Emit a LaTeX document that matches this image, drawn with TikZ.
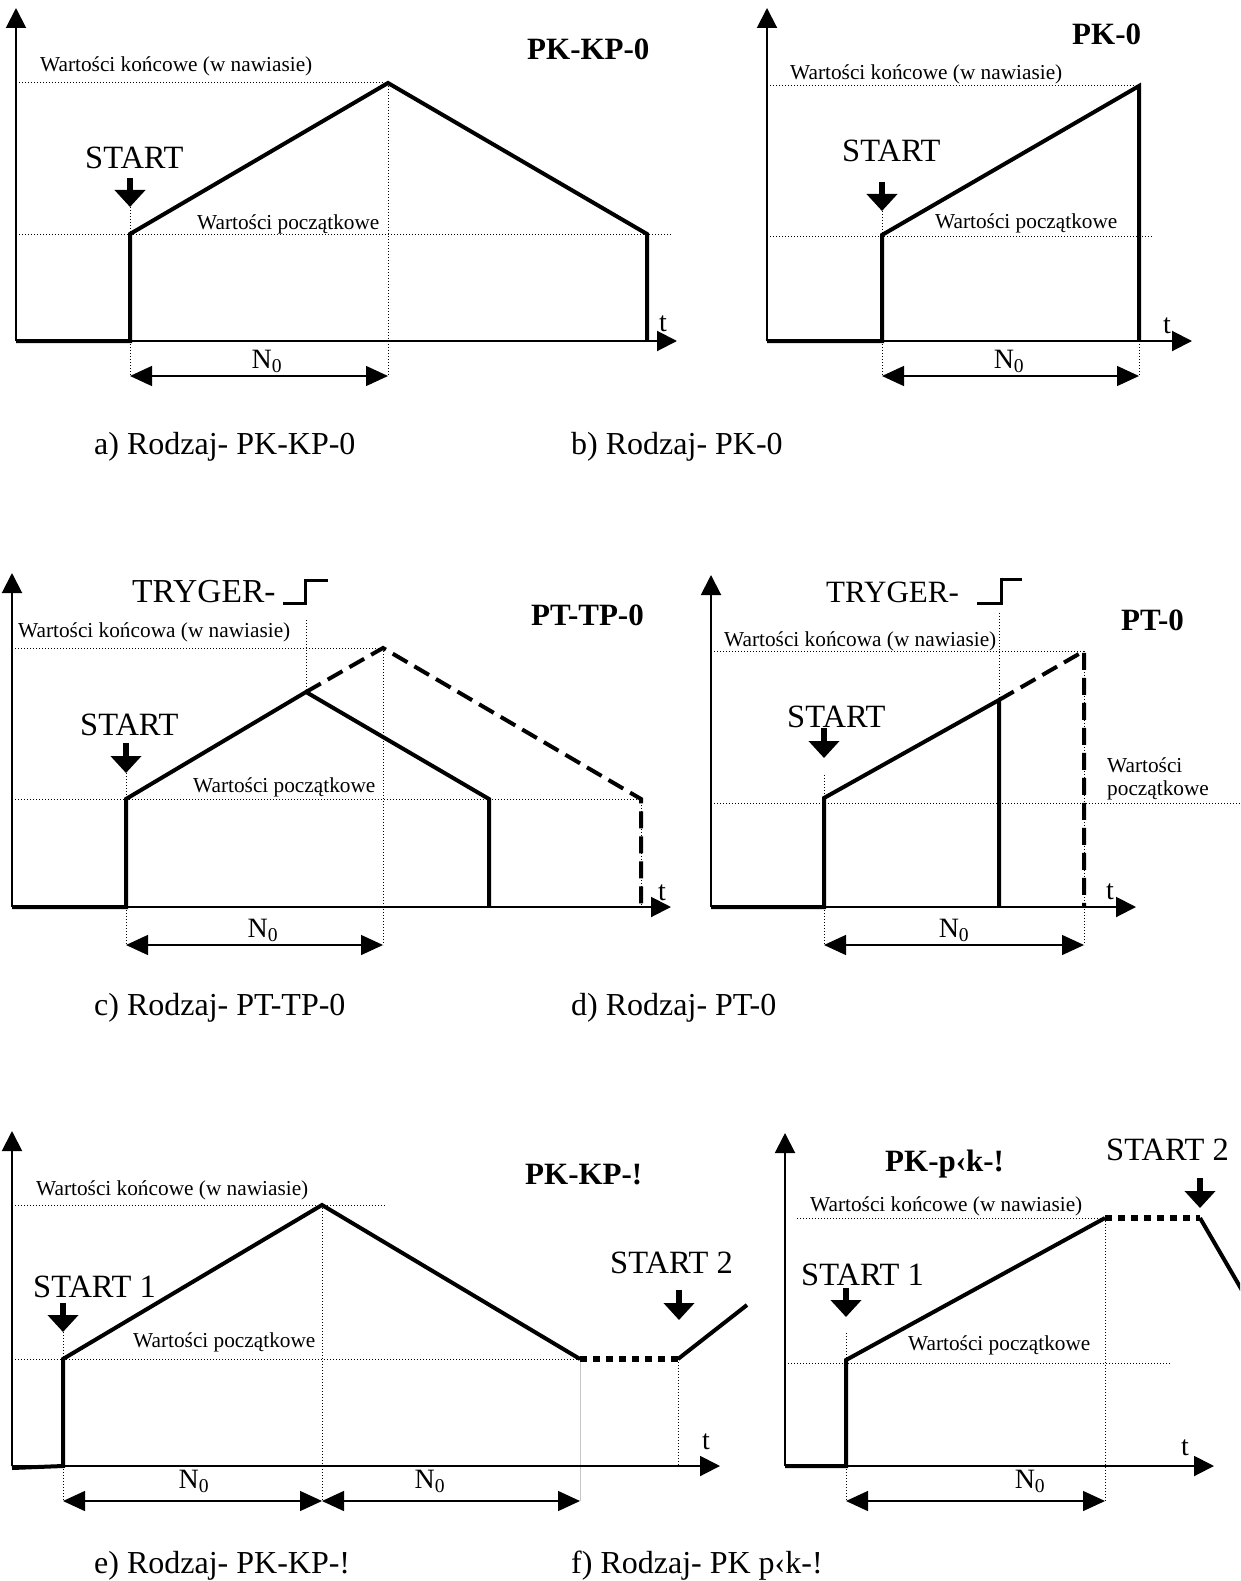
\documentclass[tikz,border=0pt]{standalone}
\usepackage{fontspec}
\setmainfont{Liberation Serif}
\usetikzlibrary{arrows.meta}
\tikzset{
  ax/.style={line width=2pt,-{Triangle[length=20pt,width=20pt]}},
  sig/.style={line width=4pt,line join=miter,line cap=butt},
  dotl/.style={line width=1pt,dash pattern=on 1.2pt off 1.8pt},
  dsh/.style={line width=4pt,dash pattern=on 17pt off 8pt},
  tdot/.style={line width=6pt,dash pattern=on 7pt off 6pt},
  dimarr/.style={line width=1.4pt,{Triangle[length=22pt,width=20pt]}-{Triangle[length=22pt,width=20pt]}},
  startarr/.style={line width=6pt,-{Triangle[length=17pt,width=30pt]}},
  stepl/.style={line width=3pt},
  small/.style={font=\fontsize{21.3}{24}\selectfont,inner sep=0,anchor=base west},
  big/.style={font=\fontsize{32.5}{36}\selectfont,inner sep=0,anchor=base west},
  head/.style={font=\fontsize{31}{36}\selectfont\bfseries,inner sep=0,anchor=base west},
  capt/.style={font=\fontsize{32}{38}\selectfont,inner sep=0,anchor=base west},
  nlab/.style={font=\fontsize{28}{32}\selectfont,inner sep=0,anchor=base},
}
\newcommand{\Nsub}{N\textsubscript{0}}
\begin{document}
\begin{tikzpicture}[x=1pt,y=-1pt]
\useasboundingbox (0,0) rectangle (1240,1581);
\clip (0,0) rectangle (1240,1581);
\fill[white] (0,0) rectangle (1240,1581);

% ================= Panel a =================
\draw[dotl] (16,83) -- (388,83);
\draw[dotl] (16,234) -- (672,234);
\draw[dotl] (130,207) -- (130,234);
\draw[dotl] (130,341) -- (130,376);
\draw[dotl] (388,83) -- (388,376);
\draw[ax] (16,341) -- (16,8);
\draw[ax] (16,341) -- (677,341);
\draw[sig] (16,341) -- (130,341) -- (130,234) -- (388,83) -- (647,234) -- (647,341);
\draw[startarr] (130,178) -- (130,207);
\draw[dimarr] (130,376) -- (388,376);
\node[big] (aS) at (85,169) {START};
\node[small] (aK) at (40,72) {Wartości końcowe (w nawiasie)};
\node[small] (aP) at (197,229) {Wartości początkowe};
\node[head] (aH) at (527,60) {PK-KP-0};
\node[nlab] (aT) at (663,331) {t};
\node[nlab] (aN) at (267,368) {\Nsub};
\node[capt] (aC) at (94,454) {a) Rodzaj- PK-KP-0};

% ================= Panel b =================
\draw[dotl] (767,86) -- (1139,86);
\draw[dotl] (767,236) -- (1152,236);
\draw[dotl] (882,211) -- (882,236);
\draw[dotl] (882,341) -- (882,376);
\draw[dotl] (1139,341) -- (1139,376);
\draw[ax] (767,341) -- (767,8);
\draw[ax] (767,341) -- (1192,341);
\draw[sig] (767,341) -- (882,341) -- (882,235) -- (1139,86) -- (1139,341);
\draw[startarr] (882,182) -- (882,211);
\draw[dimarr] (882,376) -- (1139,376);
\node[big] (bS) at (842,162) {START};
\node[small] (bK) at (790,80) {Wartości końcowe (w nawiasie)};
\node[small] (bP) at (935,228) {Wartości początkowe};
\node[head] (bH) at (1072,45) {PK-0};
\node[nlab] (bT) at (1167,333) {t};
\node[nlab] (bN) at (1009,368) {\Nsub};
\node[capt] (bC) at (571,454) {b) Rodzaj- PK-0};

% ================= Panel c =================
\draw[dotl] (12,648) -- (383,648);
\draw[dotl] (12,799) -- (641,799);
\draw[dotl] (306,620) -- (306,692);
\draw[dotl] (126,773) -- (126,799);
\draw[dotl] (126,907) -- (126,945);
\draw[dotl] (383,648) -- (383,945);
\draw[dotl] (641,799) -- (641,907);
\draw[ax] (12,907) -- (12,573);
\draw[ax] (12,907) -- (671,907);
\draw[sig] (12,907) -- (126,907) -- (126,799) -- (306,692) -- (489,799) -- (489,907);
\draw[dsh] (306,692) -- (383,648) -- (641,799) -- (641,907);
\draw[startarr] (126,743) -- (126,773);
\draw[stepl] (283,603) -- (305,603) -- (305,580) -- (328,580);
\draw[dimarr] (126,945) -- (383,945);
\node[big] (cS) at (80,735) {START};
\node[big,font=\fontsize{33.5}{38}\selectfont] (cTr) at (132,602) {TRYGER-};
\node[small] (cK) at (18,637) {Wartości końcowa (w nawiasie)};
\node[small] (cP) at (193,792) {Wartości początkowe};
\node[head] (cH) at (531,625) {PT-TP-0};
\node[nlab] (cT) at (662,900) {t};
\node[nlab] (cN) at (263,937) {\Nsub};
\node[capt] (cC) at (94,1015) {c) Rodzaj- PT-TP-0};

% ================= Panel d =================
\draw[dotl] (711,651) -- (1084,651);
\draw[dotl] (711,803) -- (1240,803);
\draw[dotl] (999,613) -- (999,700);
\draw[dotl] (824,775) -- (824,798);
\draw[dotl] (824,907) -- (824,945);
\draw[dotl] (1084,651) -- (1084,945);
\draw[ax] (711,907) -- (711,575);
\draw[ax] (711,907) -- (1136,907);
\draw[sig] (711,907) -- (824,907) -- (824,798) -- (999,700) -- (999,907);
\draw[dsh] (999,700) -- (1084,651) -- (1084,907);
\draw[startarr] (824,728) -- (824,758);
\draw[stepl] (977,603) -- (1001,603) -- (1001,579) -- (1022,579);
\draw[dimarr] (824,945) -- (1084,945);
\node[big] (dS) at (787,727) {START};
\node[big,font=\fontsize{31}{36}\selectfont] (dTr) at (826,602) {TRYGER-};
\node[small] (dK) at (724,646) {Wartości końcowa (w nawiasie)};
\node[small] (dP1) at (1107,772) {Wartości};
\node[small] (dP2) at (1107,795) {początkowe};
\node[head] (dH) at (1121,630) {PT-0};
\node[nlab] (dT) at (1110,899) {t};
\node[nlab] (dN) at (954,937) {\Nsub};
\node[capt] (dC) at (571,1015) {d) Rodzaj- PT-0};

% ================= Panel e =================
\draw[dotl] (12,1205) -- (385,1205);
\draw[dotl] (12,1359) -- (580,1359);
\draw[dotl] (63,1332) -- (63,1359);
\draw[dotl] (63,1466) -- (63,1501);
\draw[dotl] (322,1205) -- (322,1501);
\draw[dotl] (678,1359) -- (678,1466);
\draw[gray!45,line width=1pt] (580,1359) -- (580,1501);
\draw[ax] (12,1466) -- (12,1131);
\draw[ax] (12,1466) -- (720,1466);
\draw[sig] (12,1468) -- (63,1466) -- (63,1359) -- (322,1205) -- (580,1359);
\draw[tdot] (580,1359) -- (678,1359);
\draw[sig] (678,1359) -- (747,1305);
\draw[startarr] (63,1303) -- (63,1332);
\draw[startarr] (679,1290) -- (679,1320);
\draw[dimarr] (63,1501) -- (322,1501);
\draw[dimarr] (322,1501) -- (580,1501);
\node[big] (eS1) at (33,1297) {START 1};
\node[big] (eS2) at (610,1273) {START 2};
\node[small] (eK) at (36,1195) {Wartości końcowe (w nawiasie)};
\node[small] (eP) at (133,1347) {Wartości początkowe};
\node[head] (eH) at (525,1184) {PK-KP-!};
\node[nlab] (eT) at (706,1449) {t};
\node[nlab] (eN1) at (194,1488) {\Nsub};
\node[nlab] (eN2) at (430,1488) {\Nsub};
\node[capt] (eC) at (94,1573) {e) Rodzaj- PK-KP-!};

% ================= Panel f =================
\draw[dotl] (797,1218) -- (1105,1218);
\draw[dotl] (785,1363) -- (1170,1363);
\draw[dotl] (846,1333) -- (846,1360);
\draw[dotl] (846,1466) -- (846,1501);
\draw[dotl] (1105,1218) -- (1105,1501);
\draw[ax] (785,1466) -- (785,1133);
\draw[ax] (785,1466) -- (1214,1466);
\draw[sig] (785,1466) -- (846,1466) -- (846,1360) -- (1105,1218);
\draw[tdot] (1105,1218) -- (1200,1218);
\draw[sig] (1200,1218) -- (1250,1304);
\draw[startarr] (846,1288) -- (846,1317);
\draw[startarr] (1200,1178) -- (1200,1208);
\draw[dimarr] (846,1501) -- (1105,1501);
\node[big] (fS1) at (801,1285) {START 1};
\node[big] (fS2) at (1106,1160) {START 2};
\node[small] (fK) at (810,1211) {Wartości końcowe (w nawiasie)};
\node[small] (fP) at (908,1350) {Wartości początkowe};
\node[head] (fH) at (885,1171) {PK-p‹k-!};
\node[nlab] (fT) at (1185,1455) {t};
\node[nlab] (fN) at (1030,1488) {\Nsub};
\node[capt] (fC) at (571,1573) {f) Rodzaj- PK p‹k-!};
\end{tikzpicture}
\end{document}
